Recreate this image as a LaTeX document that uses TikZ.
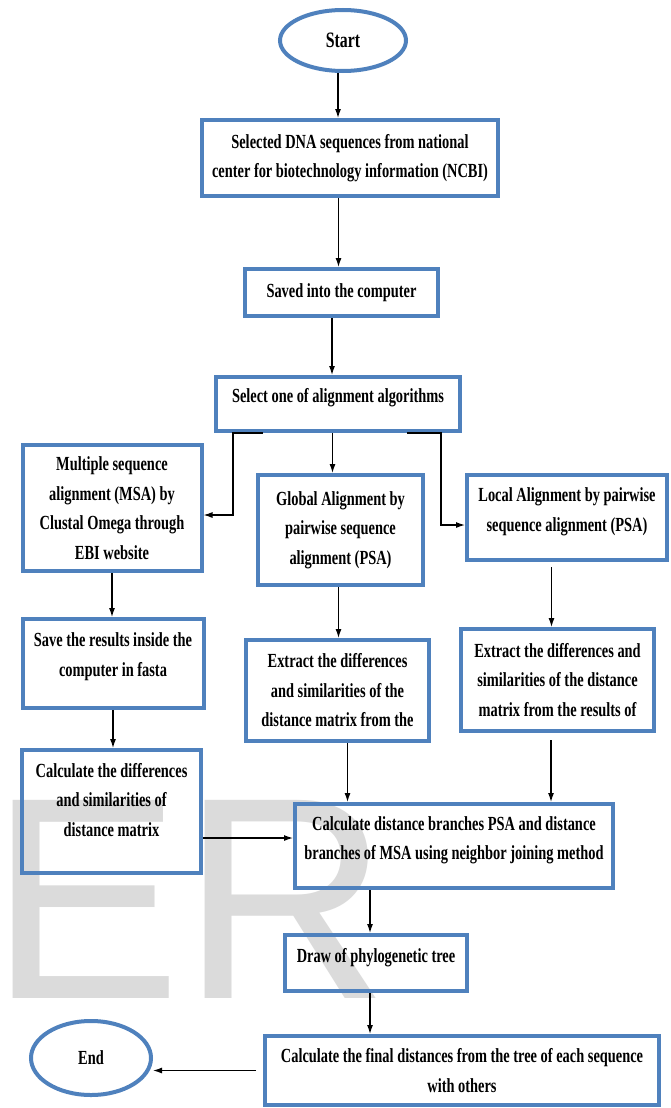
\documentclass[tikz,border=0pt]{standalone}
\usepackage{fontspec}
\setmainfont[FakeStretch=0.72]{Liberation Serif}
\newfontfamily\markfont{Liberation Sans}
\usepackage{xcolor}
\usetikzlibrary{arrows.meta}
\usetikzlibrary{shapes.geometric}
\definecolor{boxblue}{RGB}{79,129,189}

\begin{document}
\begin{tikzpicture}[x=1pt, y=-1pt,
	blockbox/.style={draw=boxblue, line width=4pt, rectangle, align=center, inner sep=2pt,
		font=\fontsize{20}{29.5}\selectfont\bfseries},
	oval/.style={draw=boxblue, line width=4pt, ellipse, inner sep=0pt,
		font=\fontsize{20}{24}\selectfont\bfseries},
	flowarrow/.style={-{Latex[length=9pt,width=6pt]}, line width=1.2pt},
	watermark/.style={text=black!14, inner sep=0pt, font=\markfont\fontsize{288}{288}\selectfont}]
	\path[use as bounding box, fill=white] (0,0) rectangle (670,1108);
	\node[watermark, anchor=base west] (mark) at (-10.8,998) {ER};

	\node[oval, minimum width=126pt, minimum height=61pt, font=\fontsize{22}{24}\selectfont\bfseries] (start) at (343,40.5) {Start};
	\node[blockbox, minimum width=296pt, minimum height=76pt] (ncbi) at (350,158) {Selected DNA sequences from national\\center for biotechnology information (NCBI)};
	\node[blockbox, minimum width=193pt, minimum height=47pt] (saved) at (341.5,292.5) {Saved into the computer};
	\node[blockbox, minimum width=244pt, minimum height=54pt, text depth=18pt] (choose) at (338,404) {Select one of alignment algorithms};

	\node[blockbox, minimum width=179pt, minimum height=126pt] (msa) at (112,508) {Multiple sequence\\alignment (MSA) by\\Clustal Omega through\\EBI website};
	\node[blockbox, minimum width=165pt, minimum height=110pt] (global) at (340.5,530) {Global Alignment by\\pairwise sequence\\alignment (PSA)};
	\node[blockbox, minimum width=200pt, minimum height=85pt, text depth=16pt] (local) at (567,517.5) {Local Alignment by pairwise\\sequence alignment (PSA)};

	\node[blockbox, minimum width=181pt, minimum height=89pt, text depth=18pt] (fasta) at (113,663.5) {Save the results inside the\\computer in fasta};
	\node[blockbox, minimum width=183pt, minimum height=101pt] (extglobal) at (337.5,690.5) {Extract the differences\\and similarities of the\\distance matrix from the};
	\node[blockbox, minimum width=193pt, minimum height=102pt] (extlocal) at (557.5,680) {Extract the differences and\\similarities of the distance\\matrix from the results of};

	\node[blockbox, minimum width=179pt, minimum height=123pt, text depth=24pt] (calcmsa) at (111.5,811.5) {Calculate the differences\\and similarities of\\distance matrix};
	\node[blockbox, minimum width=318pt, minimum height=84pt, text depth=16pt] (branches) at (454,846) {Calculate distance branches PSA and distance\\branches of MSA using neighbor joining method};
	\node[blockbox, minimum width=182pt, minimum height=56pt, text depth=16pt] (tree) at (376,963) {Draw of phylogenetic tree};
	\node[blockbox, minimum width=394pt, minimum height=69pt] (final) at (462,1070.5) {Calculate the final distances from the tree of each sequence\\with others};
	\node[oval, minimum width=120pt, minimum height=74pt] (end) at (91,1058) {End};

	\draw[flowarrow] ([xshift=-5pt]start.south) -- ([xshift=-5pt]start.south |- ncbi.north);
	\draw[flowarrow] ([xshift=-3pt]saved.north |- ncbi.south) -- ([xshift=-3pt]saved.north);
	\draw[flowarrow] ([xshift=-6pt]choose.north |- saved.south) -- ([xshift=-6pt]choose.north);
	\draw[flowarrow] ([xshift=-8pt]global.north |- choose.south) -- ([xshift=-8pt]global.north);
	\draw[flowarrow] ([xshift=-75pt]choose.south) -- ++(-30,0) |- ([yshift=-7pt]msa.east);
	\draw[flowarrow] ([xshift=69pt]choose.south) -- ++(34,0) |- ([yshift=-7.5pt]local.west);

	\draw[flowarrow] (msa.south) -- (msa.south |- fasta.north);
	\draw[flowarrow] ([xshift=-2pt]global.south) -- ([xshift=-2pt]global.south |- extglobal.north);
	\draw[flowarrow] ([xshift=-6pt,yshift=-5pt]extlocal.north |- local.south) -- ([xshift=-6pt]extlocal.north);

	\draw[flowarrow] (fasta.south) -- (fasta.south |- calcmsa.north);
	\draw[flowarrow] ([xshift=10pt]extglobal.south) -- ([xshift=10pt]extglobal.south |- branches.north);
	\draw[flowarrow] ([xshift=-6.5pt,yshift=-7pt]extlocal.south) -- ([xshift=-6.5pt]extlocal.south |- branches.north);
	\draw[flowarrow] ([yshift=8pt]branches.west -| calcmsa.east) -- ([yshift=8pt]branches.west);

	\draw[flowarrow] ([xshift=-6pt]tree.north |- branches.south) -- ([xshift=-6pt]tree.north);
	\draw[flowarrow] ([xshift=-6pt]tree.south) -- ([xshift=-6pt]tree.south |- final.north);
	\draw[flowarrow] ([xshift=-7pt]final.west) -- (final.west -| end.east);
\end{tikzpicture}
\end{document}
